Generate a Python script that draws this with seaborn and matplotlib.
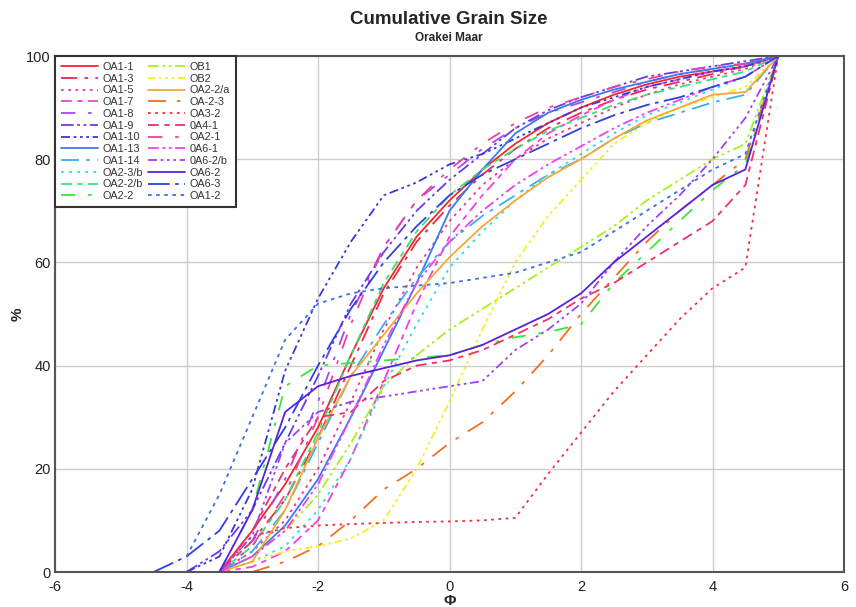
import numpy as np
import pandas as pd
import seaborn as sns
import matplotlib.pyplot as plt

nan = np.nan

# phi classes
phi = [ -4.5, -4, -3.5, -3, -2.5, -2, -1.5, -1, -0.5, 0,
        0.5, 1, 1.5, 2, 2.5, 3, 3.5, 4, 4.5, 5 ]

# cumulative percent per sample
oa1_1 = [ nan, nan, 0, 8, 17, 28, 42, 55, 65, 72, 78, 83, 87, 90, 92.5, 94.5, 96, 97, 98, 100 ]
oa1_3 = [ nan, nan, 0, 6, 14, 26, 40, 54, 64, 71, 77, 82, 86, 89, 91.5, 93.5, 95, 96.5, 98, 100 ]
oa1_5 = [ nan, nan, 0, 4, 10, 20, 33, 47, 59, 68, 75, 80, 84, 87, 90, 92.5, 94.5, 96, 97.5, 100 ]
oa1_7 = [ nan, nan, 0, 1, 4, 10, 22, 37, 52, 65, 73, 80, 85, 88.5, 91.5, 94, 95.5, 97, 98, 100 ]
oa1_8 = [ nan, nan, 0, 6, 18, 33, 50, 63, 72, 77, 82, 86, 89, 91, 93, 95, 96.5, 97.5, 98.5, 100 ]
oa1_9 = [ nan, 0, 4, 12, 25, 38, 52, 62, 70, 76, 81, 86, 89.5, 92, 94, 96, 97, 98, 99, 100 ]
oa1_10 = [ nan, 0, 3, 16, 39, 53, 64, 73, 75.5, 79, 81, 84, 87, 90, 92, 94, 95.5, 97, 98, 100 ]
oa1_13 = [ nan, nan, 0, 3, 9, 18, 30, 43, 56, 70, 78, 85, 89, 91.5, 93.5, 95, 96.5, 97.5, 98.5, 100 ]
oa1_14 = [ nan, nan, 0, 4, 12, 25, 38, 48, 57, 64, 69, 73, 77, 80, 84, 87, 89, 91, 92.5, 100 ]
oa2_3b = [ nan, nan, 0, 2, 5, 12, 22, 36, 48, 59, 66, 72, 77, 81, 85, 88.5, 91, 93.5, 96, 100 ]
oa2_2b = [ nan, nan, 0, 5, 14, 27, 42, 56, 66, 73, 78, 82, 85.5, 88, 90.5, 92.5, 94, 95.5, 97, 100 ]
oa2_2 = [ nan, nan, 0, 12, 36, 40, 40.5, 41, 41.5, 42, 44, 45.5, 46.5, 48, 56, 62, 68, 74, 79, 100 ]
ob1 = [ nan, nan, 0, 3, 8, 15, 25, 36, 42, 47, 51, 55, 59, 63, 67, 72, 76, 80, 83, 100 ]
ob2 = [ nan, nan, 0, 2, 4, 5, 6.5, 10, 20, 33, 47, 60, 69, 76, 83, 87, 90, 92, 94, 100 ]
oa2_2a = [ nan, nan, 0, 2, 12, 26, 38, 46, 54, 61, 67, 72, 76.5, 80, 84, 87.5, 90, 92.5, 93, 100 ]
oa_2_3 = [ nan, nan, nan, 0, 2, 5, 10, 16, 20, 25, 29, 35, 42, 50, 57, 64, 70, 75, 80, 100 ]
oa3_2 = [ nan, nan, 0, 7, 8.5, 9, 9.3, 9.5, 9.7, 9.8, 10, 10.5, 19, 27, 35, 42, 49, 55, 59, 100 ]
oa4_1 = [ nan, nan, 0, 8, 20, 30, 31, 37, 40, 41, 43, 46, 49, 53, 56, 60, 64, 68, 75, 100 ]
oa2_1 = [ nan, nan, 0, 5, 15, 30, 48, 63, 72, 78, 83, 87, 90, 92, 94, 95.5, 97, 98, 98.5, 100 ]
oa6_1 = [ nan, nan, 0, 3, 8, 17, 30, 44, 56, 64, 70, 75, 79, 82.5, 86, 89, 91.5, 94, 96, 100 ]
oa6_2b = [ nan, nan, 0, 7, 25, 31, 33, 34, 35, 36, 37, 43, 47, 52, 60, 67, 73, 80, 88, 100 ]
oa6_2 = [ nan, nan, 0, 12, 31, 36, 38, 39.5, 41, 42, 44, 47, 50, 54, 60, 65, 70, 75, 78, 100 ]
oa6_3 = [ 0, 3, 8, 18, 28, 40, 51, 60, 67, 73, 77, 80, 83, 86, 88.5, 90.5, 92, 94, 96, 100 ]
oa1_2 = [ nan, 3, 15, 30, 45, 52, 54, 55, 55.5, 56, 57, 58, 60, 62, 66, 70, 74, 78, 81, 100 ]

names = [ 'OA1-1', 'OA1-3', 'OA1-5', 'OA1-7', 'OA1-8', 'OA1-9',
          'OA1-10', 'OA1-13', 'OA1-14', 'OA2-3/b', 'OA2-2/b', 'OA2-2',
          'OB1', 'OB2', 'OA2-2/a', 'OA-2-3', 'OA3-2', '0A4-1',
          'OA2-1', '0A6-1', '0A6-2/b', 'OA6-2', 'OA6-3', 'OA1-2' ]
series = [ oa1_1, oa1_3, oa1_5, oa1_7, oa1_8, oa1_9,
           oa1_10, oa1_13, oa1_14, oa2_3b, oa2_2b, oa2_2,
           ob1, ob2, oa2_2a, oa_2_3, oa3_2, oa4_1,
           oa2_1, oa6_1, oa6_2b, oa6_2, oa6_3, oa1_2 ]

colors = [ '#f02828', '#f0284c', '#e8388a', '#f040e0', '#a848f0', '#6a3ae8',
           '#3838d8', '#3c78f0', '#38b0f0', '#20e0e8', '#38e07a', '#38e838',
           '#a8f020', '#f0f020', '#f8a830', '#f07020', '#f03040', '#f03068',
           '#f040a0', '#f040f0', '#a040f0', '#5a20e0', '#3040e0', '#3a70e0' ]

dash_pats = [ '', ( 9, 4, 2, 4 ), ( 1.5, 2.5 ), ( 6, 3, 3, 3 ), ( 8, 7, 2, 7 ),
              ( 7, 2, 1.5, 2, 1.5, 2 ), ( 5, 2, 1.5, 2, 1.5, 2, 1.5, 2 ), '',
              ( 10, 4, 2, 4 ), ( 1.5, 3 ), ( 6, 3, 3, 3 ), ( 8, 7, 2, 7 ),
              ( 6, 2, 1.5, 2, 1.5, 2 ), ( 4, 2, 1.5, 2, 1.5, 2, 1.5, 2 ), '',
              ( 10, 6, 2, 6 ), ( 1.5, 2.5 ), ( 6, 3, 3, 3 ), ( 8, 7, 2, 7 ),
              ( 6, 2, 1.5, 2, 1.5, 2 ), ( 5, 2, 1.5, 2, 1.5, 2, 1.5, 2 ), '',
              ( 12, 3, 2, 3 ), ( 2, 2.5 ) ]

# long table for seaborn
df = pd.concat( [
  pd.DataFrame( { 'phi': phi, 'pct': s, 'sample': n } )
  for n, s in zip( names, series )
], ignore_index = True ).dropna()

sns.set_style( 'white' )
plt.rcParams[ 'font.family' ] = [ 'Liberation Sans', 'DejaVu Sans' ]
plt.rcParams[ 'axes.unicode_minus' ] = False

fig = plt.figure( figsize = ( 8.56, 6.07 ), dpi = 100 )
ax = fig.add_axes( [ 55 / 856, 35 / 607, 789 / 856, 516 / 607 ] )

sns.lineplot(
  data = df, x = 'phi', y = 'pct',
  hue = 'sample', style = 'sample',
  hue_order = names, style_order = names,
  palette = dict( zip( names, colors ) ),
  dashes = dict( zip( names, dash_pats ) ),
  linewidth = 1.3, sort = False, ax = ax )

ax.set_xlim( -6, 6 )
ax.set_ylim( 0, 100 )
ax.set_xticks( range( -6, 7, 2 ) )
ax.set_yticks( range( 0, 101, 20 ) )
ax.grid( True, color = '#cccccc', linewidth = 1 )
ax.tick_params( labelsize = 10.5, length = 0, colors = '#222222' )
ax.tick_params( axis = 'x', pad = 6 )
ax.tick_params( axis = 'y', pad = 3 )
for sp in ax.spines.values():
  sp.set_color( '#555555' )
  sp.set_linewidth( 1.5 )

ax.set_xlabel( 'Φ', fontsize = 11, fontweight = 'bold', labelpad = 0 )
ax.set_ylabel( '%', fontsize = 11, fontweight = 'bold', labelpad = 1 )

# titles centred over the plot area
fig.text( 449 / 856, 1 - 20 / 607, 'Cumulative Grain Size', ha = 'center',
          va = 'center', fontsize = 13.5, fontweight = 'bold' )
fig.text( 449 / 856, 1 - 38 / 607, 'Orakei Maar', ha = 'center',
          va = 'center', fontsize = 8.5, fontweight = 'bold' )

leg = ax.legend(
  ncol = 2, loc = 'upper left', bbox_to_anchor = ( 0, 1 ),
  fontsize = 7.8, frameon = True, fancybox = False,
  edgecolor = '#333333', framealpha = 1, borderaxespad = 0,
  handlelength = 3.4, handletextpad = 0.4, columnspacing = 0.5,
  labelspacing = 0.16, borderpad = 0.55 )
leg.get_frame().set_linewidth( 1.5 )
for t in leg.get_texts():
  t.set_color( '#333333' )

fig.savefig( 'out.png', dpi = 100 )
